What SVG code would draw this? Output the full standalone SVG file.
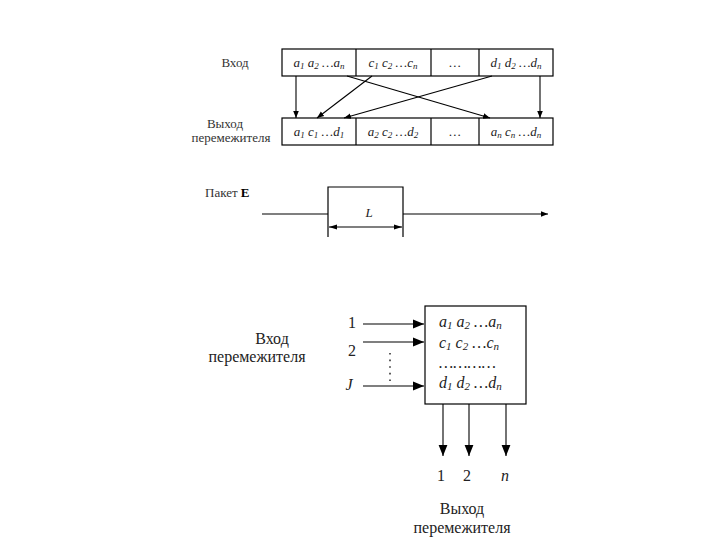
<svg xmlns="http://www.w3.org/2000/svg" width="720" height="540" viewBox="0 0 720 540">
<style>
.bx{fill:none;stroke:#000;stroke-width:1.2}
.ln{fill:none;stroke:#000;stroke-width:1.1}
.dots{fill:none;stroke:#333;stroke-width:1.6;stroke-dasharray:1.6,5}
.lbl{font-family:"Liberation Serif",serif;font-size:13px;fill:#333}
.cell{font-family:"Liberation Serif",serif;font-style:italic;font-size:13px;fill:#222;text-anchor:middle}
.big{font-family:"Liberation Serif",serif;font-size:16px;fill:#222}
.bcell{font-family:"Liberation Serif",serif;font-style:italic;font-size:16px;fill:#222}
.s{font-size:9px}
.s2{font-size:11px}
</style>
<defs>
<marker id="ah" viewBox="0 0 10 10" refX="10" refY="5" markerWidth="7" markerHeight="7" orient="auto" markerUnits="userSpaceOnUse"><path d="M0,1 L10,5 L0,9 z" fill="#000"/></marker>
<marker id="ahs" viewBox="0 0 10 10" refX="10" refY="5" markerWidth="8" markerHeight="8" orient="auto-start-reverse" markerUnits="userSpaceOnUse"><path d="M0,2 L10,5 L0,8 z" fill="#000"/></marker>
<marker id="ahb" viewBox="0 0 10 10" refX="10" refY="5" markerWidth="11" markerHeight="11" orient="auto" markerUnits="userSpaceOnUse"><path d="M0,1 L10,5 L0,9 z" fill="#000"/></marker>
</defs>

<g id="in-label"><text class="lbl" x="235" y="67" text-anchor="middle">Вход</text></g>
<g id="out-label"><text class="lbl" x="225" y="128" text-anchor="middle">Выход</text><text class="lbl" x="231" y="142" text-anchor="middle">перемежителя</text></g>

<g id="input-row">
<rect class="bx" x="282" y="49" width="271" height="27"/>
<line class="bx" x1="356" y1="49" x2="356" y2="76"/>
<line class="bx" x1="431" y1="49" x2="431" y2="76"/>
<line class="bx" x1="479" y1="49" x2="479" y2="76"/>
<text class="cell" x="319" y="67">a<tspan class="s" dy="2">1</tspan><tspan dy="-2"> a</tspan><tspan class="s" dy="2">2</tspan><tspan dy="-2"> …a</tspan><tspan class="s" dy="2">n</tspan></text>
<text class="cell" x="393" y="67">c<tspan class="s" dy="2">1</tspan><tspan dy="-2"> c</tspan><tspan class="s" dy="2">2</tspan><tspan dy="-2">  …c</tspan><tspan class="s" dy="2">n</tspan></text>
<text class="cell" x="455" y="67">…</text>
<text class="cell" x="516" y="67">d<tspan class="s" dy="2">1</tspan><tspan dy="-2"> d</tspan><tspan class="s" dy="2">2</tspan><tspan dy="-2"> …d</tspan><tspan class="s" dy="2">n</tspan></text>
</g>

<g id="output-row">
<rect class="bx" x="282" y="118" width="271" height="27"/>
<line class="bx" x1="356" y1="118" x2="356" y2="145"/>
<line class="bx" x1="431" y1="118" x2="431" y2="145"/>
<line class="bx" x1="479" y1="118" x2="479" y2="145"/>
<text class="cell" x="319" y="136">a<tspan class="s" dy="2">1</tspan><tspan dy="-2"> c</tspan><tspan class="s" dy="2">1</tspan><tspan dy="-2"> …d</tspan><tspan class="s" dy="2">1</tspan></text>
<text class="cell" x="393" y="136">a<tspan class="s" dy="2">2</tspan><tspan dy="-2"> c</tspan><tspan class="s" dy="2">2</tspan><tspan dy="-2">  …d</tspan><tspan class="s" dy="2">2</tspan></text>
<text class="cell" x="455" y="136">…</text>
<text class="cell" x="516" y="136">a<tspan class="s" dy="2">n</tspan><tspan dy="-2"> c</tspan><tspan class="s" dy="2">n</tspan><tspan dy="-2"> …d</tspan><tspan class="s" dy="2">n</tspan></text>
</g>

<g id="connectors">
<line class="ln" x1="296" y1="76" x2="296" y2="118" marker-end="url(#ah)"/>
<line class="ln" x1="540" y1="76" x2="540" y2="118" marker-end="url(#ah)"/>
<line class="ln" x1="347" y1="76" x2="490" y2="118" marker-end="url(#ah)"/>
<line class="ln" x1="372" y1="76" x2="317" y2="118" marker-end="url(#ah)"/>
<line class="ln" x1="492" y1="76" x2="344" y2="118" marker-end="url(#ah)"/>

<line class="ln" x1="262" y1="214" x2="328" y2="214"/>
<line class="ln" x1="403" y1="214" x2="548" y2="214" marker-end="url(#ah)"/>
<line class="ln" x1="329" y1="227" x2="402" y2="227" marker-start="url(#ahs)" marker-end="url(#ahs)"/>

<line class="ln" x1="363" y1="324" x2="424" y2="324" marker-end="url(#ahb)"/>
<line class="ln" x1="363" y1="342" x2="424" y2="342" marker-end="url(#ahb)"/>
<line class="ln" x1="363" y1="386" x2="424" y2="386" marker-end="url(#ahb)"/>
<line class="ln" x1="443" y1="404" x2="443" y2="456" marker-end="url(#ahb)"/>
<line class="ln" x1="469" y1="404" x2="469" y2="456" marker-end="url(#ahb)"/>
<line class="ln" x1="506" y1="404" x2="506" y2="456" marker-end="url(#ahb)"/>
</g>

<g id="packet">
<text class="lbl" x="205" y="197">Пакет <tspan font-weight="bold" fill="#000">E</tspan></text>
<path class="bx" d="M328,237 V187 H403 V237"/>
<text class="cell" x="369" y="217">L</text>
</g>

<g id="interleaver">
<rect class="bx" x="425" y="306" width="101" height="98"/>
<text class="bcell" x="439" y="327">a<tspan class="s2" dy="2">1</tspan><tspan dy="-2"> a</tspan><tspan class="s2" dy="2">2</tspan><tspan dy="-2"> …a</tspan><tspan class="s2" dy="2">n</tspan></text>
<text class="bcell" x="439" y="348">c<tspan class="s2" dy="2">1</tspan><tspan dy="-2"> c</tspan><tspan class="s2" dy="2">2</tspan><tspan dy="-2"> …c</tspan><tspan class="s2" dy="2">n</tspan></text>
<text class="bcell" x="439" y="368">…………</text>
<text class="bcell" x="439" y="388">d<tspan class="s2" dy="2">1</tspan><tspan dy="-2"> d</tspan><tspan class="s2" dy="2">2</tspan><tspan dy="-2"> …d</tspan><tspan class="s2" dy="2">n</tspan></text>
</g>

<g id="inputs">
<text class="big" x="352" y="328" text-anchor="middle">1</text>
<text class="big" x="352" y="356" text-anchor="middle">2</text>
<text class="big" x="349" y="390" text-anchor="middle" font-style="italic">J</text>
<line class="dots" x1="390" y1="353" x2="390" y2="384"/>
<text class="big" x="272" y="344" text-anchor="middle">Вход</text>
<text class="big" x="257" y="362" text-anchor="middle">перемежителя</text>
</g>

<g id="outputs">
<text class="big" x="441" y="481" text-anchor="middle">1</text>
<text class="big" x="467" y="481" text-anchor="middle">2</text>
<text class="big" x="505" y="481" text-anchor="middle" font-style="italic">n</text>
<text class="big" x="462" y="514" text-anchor="middle">Выход</text>
<text class="big" x="462" y="533" text-anchor="middle">перемежителя</text>
</g>
</svg>
